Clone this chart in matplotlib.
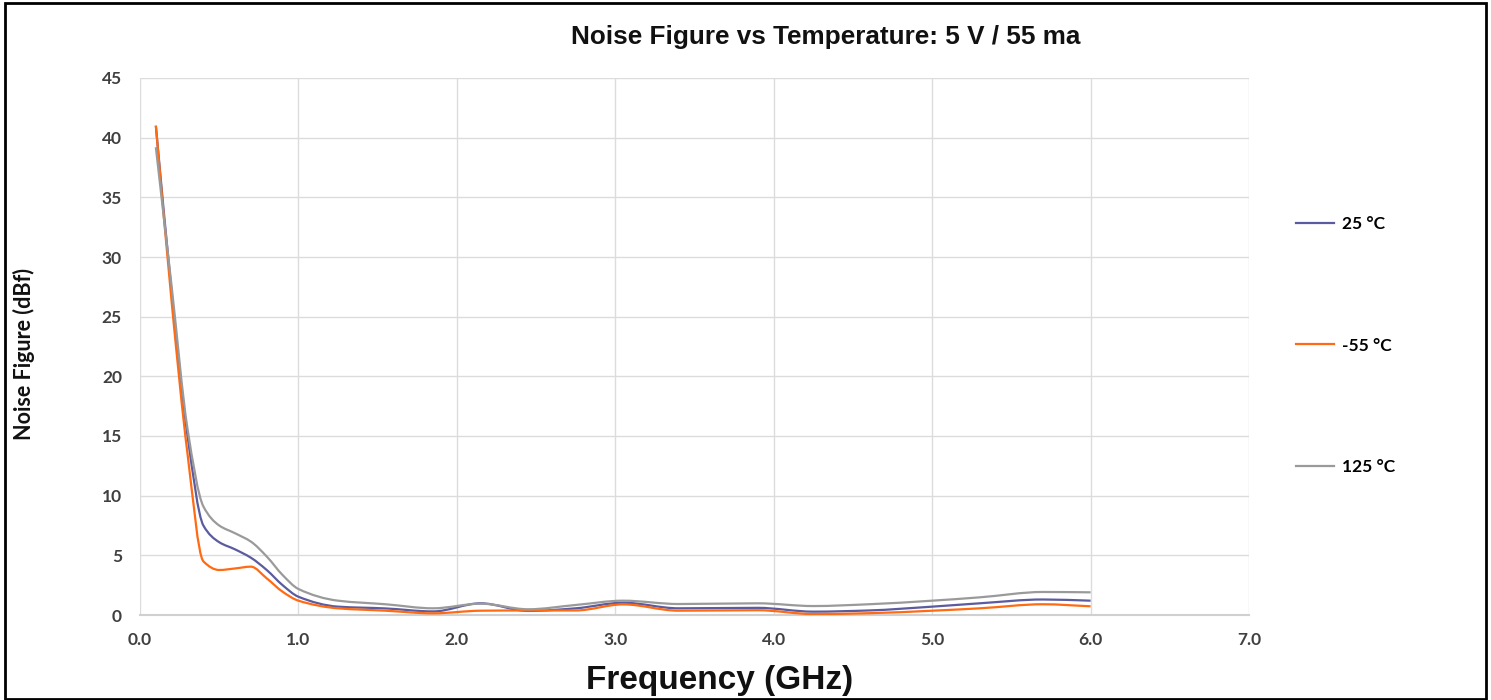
import numpy as np
import matplotlib
matplotlib.use("Agg")
import matplotlib.pyplot as plt
from matplotlib.path import Path
from matplotlib.patches import PathPatch, Rectangle
from matplotlib.lines import Line2D

# readings taken off the chart (GHz, dB)
freq = [0.1, 0.2, 0.3, 0.4, 0.5, 0.6, 0.7, 0.8, 0.9, 1.0,
        1.25, 1.55, 1.85, 2.15, 2.45, 2.75, 3.05, 3.4, 3.9,
        4.25, 4.6, 5.0, 5.3, 5.7, 6.0]
nf_25 = [41.0, 27.0, 15.0, 7.5, 6.1, 5.5, 4.8, 3.77, 2.5, 1.53,
         0.7, 0.55, 0.3, 0.98, 0.34, 0.56, 1.03, 0.56, 0.6,
         0.28, 0.38, 0.7, 0.98, 1.3, 1.2]
nf_m55 = [41.0, 26.2, 13.5, 4.5, 3.77, 3.9, 4.05, 3.07, 1.95, 1.2,
          0.56, 0.36, 0.14, 0.36, 0.38, 0.38, 0.89, 0.36, 0.4,
          0.08, 0.15, 0.36, 0.56, 0.9, 0.73]
nf_125 = [39.2, 27.5, 15.6, 9.1, 7.5, 6.85, 6.15, 4.9, 3.35, 2.18,
          1.2, 0.9, 0.56, 0.95, 0.48, 0.84, 1.2, 0.92, 0.98,
          0.75, 0.9, 1.2, 1.48, 1.93, 1.9]
labels = ["25 °C", "-55 °C", "125 °C"]
colors = ["#5b5b9f", "#ff6a13", "#9a9a9a"]

xticks = [0, 1, 2, 3, 4, 5, 6, 7]
yticks = [0, 5, 10, 15, 20, 25, 30, 35, 40, 45]


def smooth_path(x, y):
    # smoothed line drawn as bezier segments through the points
    # (shape-preserving tangents, so no overshoot between readings)
    x = np.asarray(x, float)
    y = np.asarray(y, float)
    h = np.diff(x)
    d = np.diff(y) / h
    m = np.zeros_like(y)
    m[0], m[-1] = d[0], d[-1]
    for k in range(1, len(x) - 1):
        if d[k - 1] * d[k] > 0:
            w1 = 2 * h[k] + h[k - 1]
            w2 = h[k] + 2 * h[k - 1]
            m[k] = (w1 + w2) / (w1 / d[k - 1] + w2 / d[k])
    verts = [(x[0], y[0])]
    codes = [Path.MOVETO]
    for i in range(len(x) - 1):
        verts += [(x[i] + h[i] / 3, y[i] + m[i] * h[i] / 3),
                  (x[i + 1] - h[i] / 3, y[i + 1] - m[i + 1] * h[i] / 3),
                  (x[i + 1], y[i + 1])]
        codes += [Path.CURVE4] * 3
    return Path(verts, codes)


fig = plt.figure(figsize=[14.91, 7.0], dpi=100)
ax = fig.add_axes([140 / 1491, 85 / 700, 1109 / 1491, 537 / 700])

for ys, c in zip([nf_25, nf_m55, nf_125], colors):
    ax.add_patch(PathPatch(smooth_path(freq, ys), fill=False, edgecolor=c,
                           linewidth=1.6, capstyle="butt", zorder=3))

ax.set_xlim(0, 7)
ax.set_ylim(0, 45)
ax.set_xticks(xticks)
ax.set_yticks(yticks)
ax.set_xticklabels(["%.1f" % v for v in xticks])
ax.set_yticklabels([str(v) for v in yticks])
ax.grid(True, color="#dcdcdc", linewidth=1.0)
ax.set_axisbelow(True)
for s in ["top", "right", "left"]:
    ax.spines[s].set_visible(False)
ax.spines["bottom"].set_color("#d0d0d0")
ax.spines["bottom"].set_linewidth(1.5)
ax.tick_params(axis="y", length=0, pad=13, labelsize=12.5, colors="#404040")
ax.tick_params(axis="x", length=0, pad=12, labelsize=12.5, colors="#404040")
for t in ax.get_xticklabels() + ax.get_yticklabels():
    t.set_fontfamily("Lato")
    t.set_fontweight("bold")

fig.text(826 / 1491, 1 - 37 / 700, "Noise Figure vs Temperature: 5 V / 55 ma",
         ha="center", va="center", fontsize=18.8, fontweight="bold",
         family="Liberation Sans", color="#111111")
fig.text(720 / 1491, 1 - 680 / 700, "Frequency (GHz)", ha="center",
         va="center", fontsize=24, fontweight="bold",
         family="Liberation Sans", color="#111111")
fig.text(24 / 1491, 1 - 354 / 700, "Noise Figure (dBf)", ha="center",
         va="center", rotation=90, fontsize=15.5, fontweight="bold",
         family="Lato", color="#111111")

handles = [Line2D([], [], color=c, linewidth=1.6) for c in colors]
leg = fig.legend(handles, labels, loc="upper left",
                 bbox_to_anchor=(1280 / 1491, 1 - 200 / 700), frameon=False,
                 handlelength=2.2, handletextpad=0.5, labelspacing=6.1,
                 prop={"family": "Lato", "weight": "bold", "size": 12.5})

fig.patches.append(Rectangle((5 / 1491, 1 / 700), 1481 / 1491, 696 / 700,
                             transform=fig.transFigure, fill=False,
                             edgecolor="black", linewidth=2))

fig.savefig("out.png", dpi=100)
